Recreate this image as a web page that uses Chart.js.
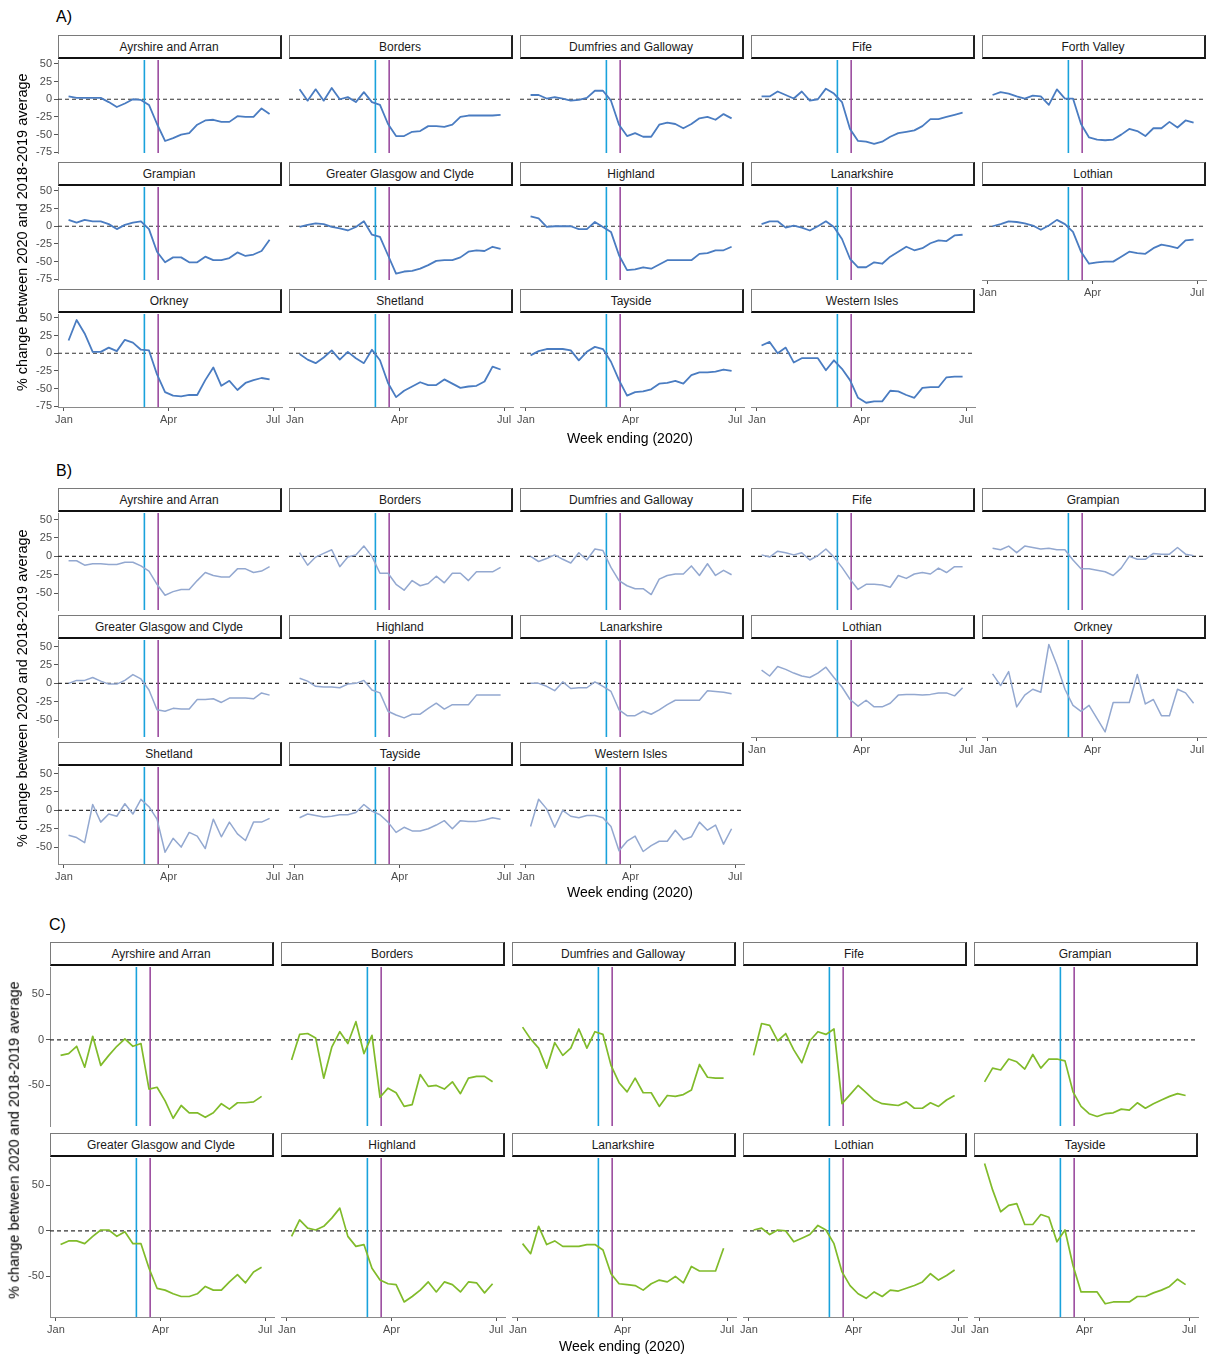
<!DOCTYPE html>
<html>
<head>
<meta charset="utf-8">
<script src="https://cdn.jsdelivr.net/npm/chart.js@4.4.1/dist/chart.umd.min.js"></script>
<style>
  body { margin: 0; background: #ffffff; }
  #wrap { position: relative; width: 1210px; height: 1356px; overflow: hidden; background: #fff;
          font-family: 'Liberation Sans', Arial, sans-serif; }
  .strip { position: absolute; box-sizing: border-box; background: #fff;
           border-top: 1px solid #7a7a7a; border-left: 1px solid #7a7a7a;
           border-bottom: 2px solid #111; border-right: 2px solid #222;
           font-size: 12px; color: #1a1a1a; text-align: center; white-space: nowrap; }
  canvas { position: absolute; }
  .txt { position: absolute; white-space: nowrap; color: #000; }
</style>
</head>
<body>
<div id="wrap"></div>
<script>
// ---------------- data ----------------
const weekEnding = ['2020-01-05','2020-01-12','2020-01-19','2020-01-26','2020-02-02','2020-02-09','2020-02-16','2020-02-23',
  '2020-03-01','2020-03-08','2020-03-15','2020-03-22','2020-03-29','2020-04-05','2020-04-12','2020-04-19','2020-04-26',
  '2020-05-03','2020-05-10','2020-05-17','2020-05-24','2020-05-31','2020-06-07','2020-06-14','2020-06-21','2020-06-28'];
const eventDates = ['2020-03-11', '2020-03-23'];
const xTickDates = ['2020-01-01', '2020-04-01', '2020-07-01'];
const xTickLabels = ['Jan', 'Apr', 'Jul'];
const yTicksA = [-75, -50, -25, 0, 25, 50];
const yTicksB = [-50, -25, 0, 25, 50];
const yTicksC = [-50, 0, 50];

const regionsA = ['Ayrshire and Arran','Borders','Dumfries and Galloway','Fife','Forth Valley','Grampian',
  'Greater Glasgow and Clyde','Highland','Lanarkshire','Lothian','Orkney','Shetland','Tayside','Western Isles'];
const A_ayrshire = [4,2,2,2,2,-4,-11,-6,0,-1,-8,-35,-59,-55,-50,-48,-36,-30,-29,-32,-32,-24,-25,-25,-13,-21];
const A_borders  = [14,-2,14,-2,16,0,3,-4,10,-4,-8,-35,-52,-52,-46,-45,-38,-38,-39,-36,-25,-23,-23,-23,-23,-22];
const A_dumfries = [6,6,1,3,1,-2,-1,2,12,12,-2,-36,-52,-48,-53,-53,-36,-33,-35,-41,-35,-27,-25,-29,-21,-27];
const A_fife     = [4,4,11,6,1,11,-2,0,15,8,-4,-42,-59,-60,-63,-60,-53,-48,-46,-44,-38,-28,-28,-25,-22,-19];
const A_forth    = [6,10,8,4,1,5,4,-8,14,1,1,-35,-54,-57,-58,-57,-50,-42,-45,-52,-41,-41,-32,-40,-30,-33];
const A_grampian = [9,5,9,7,7,3,-4,2,5,7,-4,-36,-51,-44,-44,-51,-51,-43,-48,-48,-45,-37,-42,-40,-35,-19];
const A_ggc      = [-1,2,4,3,-1,-3,-6,-1,7,-12,-15,-41,-67,-64,-63,-60,-55,-49,-48,-48,-44,-36,-34,-35,-29,-32];
const A_highland = [14,11,-1,0,0,0,-4,-4,6,-1,-8,-41,-62,-61,-58,-60,-54,-48,-48,-48,-48,-39,-38,-34,-34,-29];
const A_lanark   = [3,7,7,-2,1,-2,-6,0,7,-1,-18,-46,-58,-58,-51,-53,-43,-36,-29,-34,-31,-24,-20,-21,-13,-12];
const A_lothian  = [0,3,7,6,4,1,-5,1,9,3,-8,-36,-53,-51,-50,-50,-43,-36,-38,-39,-31,-26,-28,-31,-20,-19];
const A_orkney   = [18,47,28,2,2,8,3,19,15,5,4,-30,-55,-60,-61,-59,-59,-38,-20,-46,-39,-52,-42,-38,-35,-37];
const A_shetland = [-1,-9,-14,-6,4,-9,2,-7,-14,5,-10,-42,-62,-53,-47,-41,-45,-45,-37,-43,-49,-47,-46,-40,-19,-23];
const A_tayside  = [-3,3,6,6,6,4,-10,2,9,6,-12,-38,-60,-55,-54,-51,-43,-42,-39,-43,-31,-27,-27,-26,-23,-25];
const A_western  = [11,16,0,8,-13,-7,-7,-7,-24,-10,-22,-38,-63,-70,-68,-68,-53,-54,-59,-63,-49,-48,-48,-34,-33,-33];

const regionsB = ['Ayrshire and Arran','Borders','Dumfries and Galloway','Fife','Grampian',
  'Greater Glasgow and Clyde','Highland','Lanarkshire','Lothian','Orkney','Shetland','Tayside','Western Isles'];
const B_ayrshire = [-6,-6,-12,-10,-10,-11,-11,-8,-8,-13,-20,-38,-53,-48,-45,-45,-33,-22,-26,-28,-28,-17,-17,-22,-20,-14];
const B_borders  = [5,-12,-1,4,9,-14,-1,2,14,0,-23,-23,-38,-46,-33,-40,-37,-27,-36,-23,-23,-33,-21,-21,-21,-15];
const B_dumfries = [0,-7,-3,2,-4,-9,5,-5,10,8,-15,-33,-40,-44,-44,-52,-31,-26,-24,-24,-13,-26,-10,-26,-19,-25];
const B_fife     = [2,-1,7,5,2,5,-5,1,10,-1,-15,-31,-45,-38,-38,-39,-42,-26,-30,-24,-22,-24,-16,-22,-14,-14];
const B_grampian = [11,9,14,5,14,12,10,11,9,9,-5,-17,-17,-19,-21,-26,-16,0,-4,-4,4,3,3,12,3,1];
const B_ggc      = [0,4,4,8,3,-1,-1,4,12,6,-9,-36,-38,-34,-35,-35,-22,-22,-21,-26,-20,-20,-20,-21,-13,-16];
const B_highland = [7,3,-4,-5,-5,-6,-1,0,4,-9,-13,-38,-43,-47,-42,-42,-34,-27,-35,-29,-29,-29,-16,-16,-16,-16];
const B_lanark   = [0,0,-4,-10,2,-7,-6,-6,2,-4,-11,-36,-44,-44,-38,-42,-36,-29,-23,-23,-23,-23,-10,-11,-12,-14];
const B_lothian  = [18,10,23,19,14,10,8,14,22,8,-5,-22,-31,-23,-32,-32,-27,-16,-15,-15,-16,-15,-13,-13,-17,-6];
const B_orkney   = [13,-3,16,-32,-16,-8,-12,53,25,-8,-30,-38,-30,-48,-66,-26,-26,-26,12,-28,-22,-44,-44,-8,-13,-27];
const B_shetland = [-34,-37,-44,8,-16,-5,-8,9,-5,15,5,-12,-57,-38,-50,-30,-35,-52,-12,-36,-16,-32,-41,-16,-16,-11];
const B_tayside  = [-10,-5,-7,-9,-8,-6,-6,-3,8,-1,-6,-16,-30,-23,-28,-28,-25,-20,-14,-25,-14,-15,-15,-13,-10,-12];
const B_western  = [-22,15,2,-23,0,-8,-10,-7,-7,-10,-22,-55,-42,-35,-56,-48,-42,-42,-27,-40,-36,-16,-27,-20,-46,-25];

const regionsC = ['Ayrshire and Arran','Borders','Dumfries and Galloway','Fife','Grampian',
  'Greater Glasgow and Clyde','Highland','Lanarkshire','Lothian','Tayside'];
const C_ayrshire = [-17,-15,-7,-30,4,-28,-17,-7,1,-7,-4,-54,-52,-67,-86,-72,-80,-80,-85,-80,-70,-76,-69,-69,-68,-62];
const C_borders  = [-22,6,7,2,-42,-8,9,-4,20,-15,5,-63,-53,-58,-73,-71,-38,-51,-50,-54,-46,-59,-42,-40,-40,-46];
const C_dumfries = [14,1,-9,-31,-3,-17,-9,12,-9,9,6,-28,-47,-57,-42,-58,-58,-73,-61,-62,-60,-55,-27,-41,-42,-42];
const C_fife     = [-17,18,16,-1,7,-11,-25,-1,9,6,12,-70,-60,-50,-58,-66,-70,-71,-72,-68,-75,-75,-69,-73,-66,-61];
const C_grampian = [-46,-31,-33,-21,-24,-32,-16,-31,-21,-21,-23,-57,-73,-81,-84,-81,-80,-76,-77,-69,-75,-70,-66,-62,-59,-61];
const C_ggc      = [-15,-11,-11,-14,-6,1,1,-6,-1,-14,-14,-41,-63,-65,-69,-72,-72,-69,-61,-65,-65,-56,-48,-57,-45,-40];
const C_highland = [-6,12,3,1,5,14,25,-6,-17,-15,-41,-54,-58,-59,-78,-72,-65,-56,-67,-56,-59,-67,-56,-57,-68,-58];
const C_lanark   = [-14,-25,5,-15,-11,-17,-17,-17,-15,-15,-21,-47,-58,-59,-60,-65,-58,-54,-56,-50,-57,-39,-44,-44,-44,-19];
const C_lothian  = [1,3,-4,1,0,-12,-8,-4,6,1,-14,-45,-60,-69,-74,-67,-72,-65,-66,-63,-60,-56,-47,-54,-49,-43];
const C_tayside  = [74,45,21,28,30,7,7,18,15,-12,1,-38,-67,-67,-67,-80,-78,-78,-78,-72,-72,-68,-65,-61,-53,-59];

const seriesA = [A_ayrshire,A_borders,A_dumfries,A_fife,A_forth,A_grampian,A_ggc,A_highland,A_lanark,A_lothian,A_orkney,A_shetland,A_tayside,A_western];
const seriesB = [B_ayrshire,B_borders,B_dumfries,B_fife,B_grampian,B_ggc,B_highland,B_lanark,B_lothian,B_orkney,B_shetland,B_tayside,B_western];
const seriesC = [C_ayrshire,C_borders,C_dumfries,C_fife,C_grampian,C_ggc,C_highland,C_lanark,C_lothian,C_tayside];

// ---------------- helpers ----------------
const FONT = "'Liberation Sans', Arial, sans-serif";
Chart.defaults.font.family = FONT;
const day0 = Date.parse('2020-01-01T00:00:00Z');
const dayOf = s => (Date.parse(s + 'T00:00:00Z') - day0) / 864e5;
const weekDays = weekEnding.map(dayOf);
const eventDays = eventDates.map(dayOf);
const xTickDays = xTickDates.map(dayOf);
const X_MIN = -5.2, X_MAX = 189.8;
const eventColors = ['#19a2dc', '#9b4c9f'];
const wrap = document.getElementById('wrap');

function addText(txt, left, top, size, extra) {
  const d = document.createElement('div');
  d.className = 'txt';
  d.textContent = txt;
  d.style.left = left + 'px';
  d.style.top = top + 'px';
  d.style.fontSize = size + 'px';
  if (extra) Object.assign(d.style, extra);
  wrap.appendChild(d);
  return d;
}
function addRotated(txt, cx, cy, size) {
  const w = 400, h = size + 4;
  return addText(txt, cx - w / 2, cy - h / 2, size, {
    width: w + 'px', height: h + 'px', lineHeight: h + 'px', textAlign: 'center',
    transform: 'rotate(-90deg)', transformOrigin: '50% 50%'
  });
}
function addCentered(txt, cx, cy, size) {
  const w = 400, h = size + 4;
  return addText(txt, cx - w / 2, cy - h / 2, size, {
    width: w + 'px', height: h + 'px', lineHeight: h + 'px', textAlign: 'center'
  });
}

function buildSection(sec) {
  const n = sec.names.length;
  sec.names.forEach((name, i) => {
    const r = Math.floor(i / 5), c = i % 5;
    const plotLeft = sec.left + c * sec.colStep;
    const plotTop = sec.rowTops[r];
    // strip
    const st = document.createElement('div');
    st.className = 'strip';
    st.style.left = plotLeft + 'px';
    st.style.top = (plotTop - sec.stripOff) + 'px';
    st.style.width = sec.plotW + 'px';
    st.style.height = sec.stripH + 'px';
    st.style.lineHeight = (sec.stripH - 1) + 'px';
    st.textContent = name;
    wrap.appendChild(st);

    const showY = c === 0;
    const showX = (i + 5) >= n;
    const yW = showY ? 30 : 0;
    const xH = showX ? 24 : 0;
    const padL = 12, padR = 12, padT = 9, padB = 9;
    const W = Math.round(sec.plotW + yW + padL + padR);
    const H = Math.round(sec.plotH + xH + padT + padB);
    const cv = document.createElement('canvas');
    cv.width = W; cv.height = H;
    cv.style.width = W + 'px'; cv.style.height = H + 'px';
    cv.style.left = (plotLeft - yW - padL) + 'px';
    cv.style.top = (plotTop - padT) + 'px';
    wrap.appendChild(cv);

    const datasets = [];
    datasets.push({
      data: weekDays.map((d, k) => ({ x: d, y: sec.series[i][k] })),
      borderColor: sec.color, borderWidth: sec.lineW, pointRadius: 0,
      borderJoinStyle: 'round', tension: 0, fill: false
    });
    eventDays.forEach((d, j) => {
      datasets.push({
        data: [{ x: d, y: sec.yMin }, { x: d, y: sec.yMax }],
        borderColor: eventColors[j], borderWidth: 1.6, pointRadius: 0, fill: false
      });
    });
    datasets.push({
      data: [{ x: X_MIN, y: 0 }, { x: X_MAX, y: 0 }],
      borderColor: '#333333', borderWidth: 1.1, borderDash: [4, 3], pointRadius: 0, fill: false
    });

    new Chart(cv, {
      type: 'line',
      data: { datasets },
      options: {
        responsive: false, animation: false, devicePixelRatio: 1,
        layout: { padding: { left: padL, right: padR, top: padT, bottom: padB } },
        plugins: { legend: { display: false }, tooltip: { enabled: false } },
        events: [],
        scales: {
          x: {
            type: 'linear', min: X_MIN, max: X_MAX,
            afterFit: s => { s.height = xH; },
            afterBuildTicks: s => { s.ticks = xTickDays.map(v => ({ value: v })); },
            ticks: {
              display: showX, autoSkip: false, maxRotation: 0, minRotation: 0, padding: 2,
              color: '#4d4d4d', font: { size: 11, family: FONT },
              callback: (v, idx) => xTickLabels[idx]
            },
            grid: { display: showX, drawOnChartArea: false, drawTicks: true, tickLength: 4, color: '#555', lineWidth: 1 },
            border: { display: showX, color: '#8a8a8a', width: 1 }
          },
          y: {
            type: 'linear', min: sec.yMin, max: sec.yMax,
            afterFit: s => { s.width = yW; },
            afterBuildTicks: s => { s.ticks = sec.yTicks.map(v => ({ value: v })); },
            ticks: {
              display: showY, autoSkip: false, padding: 2,
              color: '#4d4d4d', font: { size: 11, family: FONT }
            },
            grid: { display: showY, drawOnChartArea: false, drawTicks: true, tickLength: 4, color: '#555', lineWidth: 1 },
            border: { display: showY, color: '#8a8a8a', width: 1 }
          }
        }
      }
    });
  });
}

// ---------------- sections ----------------
const sections = [
  { names: regionsA, series: seriesA, left: 57.5, colStep: 231, plotW: 224,
    rowTops: [59.5, 186.5, 313.5], plotH: 93, stripOff: 24.5, stripH: 23.5,
    yMin: -76, yMax: 55.5, yTicks: yTicksA, color: '#4a7cc1', lineW: 1.8 },
  { names: regionsB, series: seriesB, left: 57.5, colStep: 231, plotW: 224,
    rowTops: [512.5, 639.5, 766.5], plotH: 96.5, stripOff: 24.5, stripH: 23.5,
    yMin: -73, yMax: 59, yTicks: yTicksB, color: '#93a8d0', lineW: 1.5 },
  { names: regionsC, series: seriesC, left: 49.5, colStep: 231, plotW: 224,
    rowTops: [966.7, 1157.7], plotH: 158.8, stripOff: 25, stripH: 24.5,
    yMin: -94.5, yMax: 80, yTicks: yTicksC, color: '#80bb2a', lineW: 1.7 }
];
sections.forEach(buildSection);

// labels
addText('A)', 56, 8, 16);
addText('B)', 56, 462, 16);
addText('C)', 49, 916, 16);
const yTitle = '% change between 2020 and 2018-2019 average';
addRotated(yTitle, 22, 232, 14.5);
addRotated(yTitle, 22, 688, 14.5);
addRotated(yTitle, 14, 1140, 14.5);
addCentered('Week ending (2020)', 630, 438, 14);
addCentered('Week ending (2020)', 630, 892, 14);
addCentered('Week ending (2020)', 622, 1346, 14);
</script>
</body>
</html>
